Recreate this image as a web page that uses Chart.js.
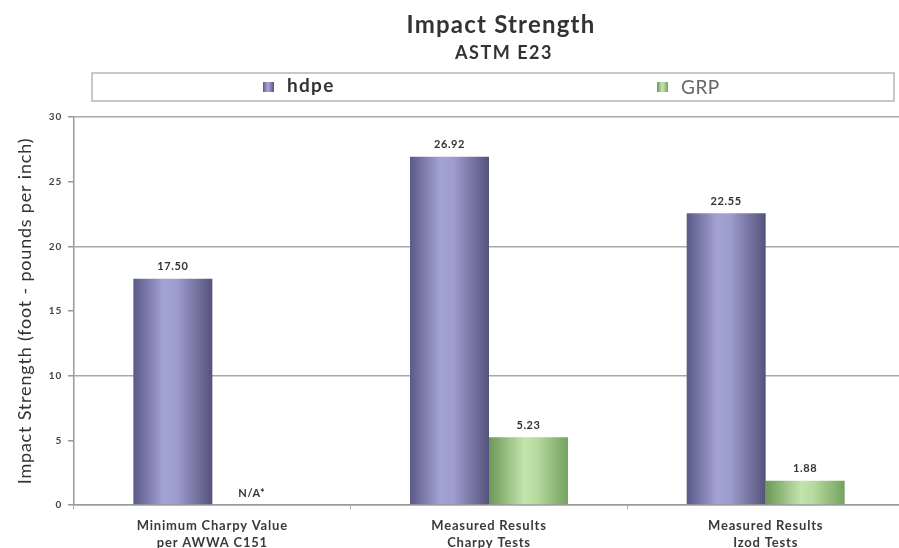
<!DOCTYPE html>
<html>
<head>
<meta charset="utf-8">
<title>Impact Strength</title>
<script src="https://cdn.jsdelivr.net/npm/chart.js@4.4.1/dist/chart.umd.min.js"></script>
<style>
  html, body { margin: 0; padding: 0; background: #fff; overflow: hidden; }
  #wrap { width: 904px; height: 548px; }
</style>
</head>
<body>
<div id="wrap"><canvas id="impact" width="904" height="548"></canvas></div>
<script>
// values (foot-pounds per inch)
const categories = [
  ['Minimum Charpy Value', 'per AWWA C151'],
  ['Measured Results', 'Charpy Tests'],
  ['Measured Results', 'Izod Tests']
]
const hdpeValues = [17.50, 26.92, 22.55]
const grpValues = [null, 5.23, 1.88]
const seriesNames = ['hdpe', 'GRP']
const yTicks = [0, 5, 10, 15, 20, 25, 30]
const missingLabel = 'N/A*'

const chartTitle = 'Impact Strength'
const chartSubtitle = 'ASTM E23'
const yAxisTitle = 'Impact Strength (foot - pounds per inch)'

const FONT = 'Lato, "Open Sans", sans-serif'
const CATEGORY_PCT = 0.571

// cylinder-ish shading, left -> right
const purpleStops = [[0, '#5b5987'], [0.38, '#a4a1d3'], [0.55, '#9f9ccf'], [1, '#55537b']]
const greenStops = [[0, '#6c9857'], [0.45, '#c3e4ad'], [0.6, '#b6da9f'], [1, '#74a25f']]

function barFill(stops, side) {
  return ctx => {
    const chart = ctx.chart
    const xs = chart.scales.x
    if (ctx.type !== 'data' || !xs || !isFinite(xs.width)) return stops[1][1]
    const center = xs.getPixelForValue(ctx.dataIndex)
    const half = (xs.width / categories.length) * CATEGORY_PCT / 2
    const left = side < 0 ? center - half : center
    const right = side < 0 ? center : center + half
    const g = chart.ctx.createLinearGradient(left, 0, right, 0)
    stops.forEach(([o, c]) => g.addColorStop(o, c))
    return g
  }
}

function swatch(ctx, stops, x, y, w, h) {
  const g = ctx.createLinearGradient(x, 0, x + w, 0)
  stops.forEach(([o, c]) => g.addColorStop(o, c))
  ctx.fillStyle = g
  ctx.fillRect(x, y, w, h)
}

// the axis text is set a little wide, so widen letter spacing while scales draw
const spacedAxes = {
  id: 'spacedAxes',
  beforeDraw(chart) { chart.ctx.letterSpacing = '0.8px' },
  beforeDatasetsDraw(chart) { chart.ctx.letterSpacing = '0px' }
}

// title, subtitle and the framed legend strip
const headerPlugin = {
  id: 'header',
  afterDraw(chart) {
    const ctx = chart.ctx
    ctx.save()
    ctx.textBaseline = 'middle'
    ctx.textAlign = 'center'
    ctx.fillStyle = '#333'
    ctx.letterSpacing = '1.2px'
    ctx.font = `bold 24px ${FONT}`
    ctx.fillText(chartTitle, 501, 25)
    ctx.letterSpacing = '1.5px'
    ctx.font = `bold 18px ${FONT}`
    ctx.fillText(chartSubtitle, 504, 53)

    ctx.letterSpacing = '0px'
    ctx.strokeStyle = '#b5b5b5'
    ctx.lineWidth = 1.5
    ctx.strokeRect(92, 73, 802, 28)

    ctx.textAlign = 'left'
    swatch(ctx, purpleStops, 263, 82, 11, 10)
    ctx.fillStyle = '#333'
    ctx.letterSpacing = '1.3px'
    ctx.font = `bold 19px ${FONT}`
    ctx.fillText(seriesNames[0], 287, 86)

    swatch(ctx, greenStops, 657, 82, 11, 10)
    ctx.fillStyle = '#666'
    ctx.letterSpacing = '0.5px'
    ctx.font = `19px ${FONT}`
    ctx.fillText(seriesNames[1], 681, 88)
    ctx.restore()
  }
}

// value text above each bar, N/A* where a value is missing
const valueLabels = {
  id: 'valueLabels',
  afterDatasetsDraw(chart) {
    const ctx = chart.ctx
    const xs = chart.scales.x
    const ys = chart.scales.y
    const half = (xs.width / categories.length) * CATEGORY_PCT / 2
    ctx.save()
    ctx.textAlign = 'center'
    ctx.textBaseline = 'middle'
    ctx.fillStyle = '#333'
    ctx.letterSpacing = '0.6px'
    ctx.font = `bold 11px ${FONT}`
    chart.data.datasets.forEach((ds, di) => {
      ds.data.forEach((v, i) => {
        const cx = xs.getPixelForValue(i) + (di === 0 ? -half / 2 : half / 2)
        if (v == null) {
          ctx.fillText(missingLabel, cx, ys.getPixelForValue(0) - 12)
        } else {
          ctx.fillText(v.toFixed(2), cx, ys.getPixelForValue(v) - 12)
        }
      })
    })
    ctx.restore()
  }
}

new Chart(document.getElementById('impact'), {
  type: 'bar',
  data: {
    labels: categories,
    datasets: [
      { label: seriesNames[0], data: hdpeValues, backgroundColor: barFill(purpleStops, -1) },
      { label: seriesNames[1], data: grpValues, backgroundColor: barFill(greenStops, 1) }
    ]
  },
  options: {
    responsive: false,
    animation: false,
    layout: { padding: { top: 117, left: 0, right: 0, bottom: 0 } },
    datasets: { bar: { categoryPercentage: CATEGORY_PCT, barPercentage: 1 } },
    plugins: {
      legend: { display: false },
      title: { display: false },
      tooltip: { enabled: false }
    },
    scales: {
      x: {
        ticks: { color: '#3a3a3a', font: { family: FONT, size: 13, weight: 'bold', lineHeight: 1.3 }, padding: 8, maxRotation: 0 },
        grid: { color: 'transparent', tickColor: '#aaa', tickLength: 4, offset: true },
        border: { color: '#9a9a9a', width: 1.5 },
        afterFit: s => { s.height = 43 }
      },
      y: {
        min: 0,
        max: 30,
        afterBuildTicks: s => { s.ticks = yTicks.map(v => ({ value: v })) },
        ticks: { color: '#444', font: { family: FONT, size: 10, weight: 'bold' }, padding: 6 },
        grid: {
          color: c => (c.tick && c.tick.value % 10 === 0 ? '#a8a8a8' : 'transparent'),
          lineWidth: 1.5,
          tickColor: '#999',
          tickLength: 6
        },
        border: { color: '#9a9a9a', width: 1.5 },
        title: { display: true, text: yAxisTitle, color: '#333', font: { family: FONT, size: 18 }, padding: { top: 14, bottom: 0 } },
        afterFit: s => { s.width = 74 }
      }
    }
  },
  plugins: [spacedAxes, headerPlugin, valueLabels]
})
</script>
</body>
</html>
